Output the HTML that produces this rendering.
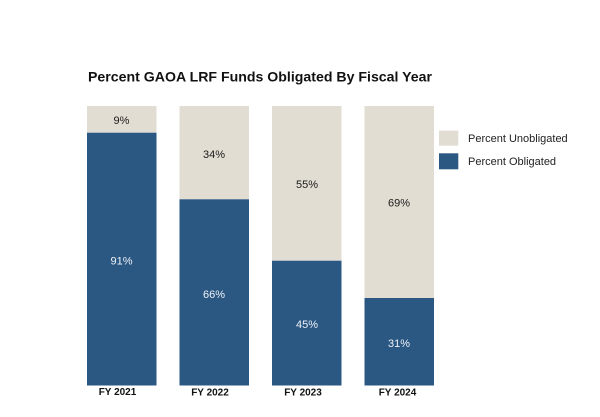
<!DOCTYPE html>
<html>
<head>
<meta charset="utf-8">
<style>
  html,body{margin:0;padding:0;background:#fff;}
  svg{display:block;}
  text{font-family:"Liberation Sans",sans-serif;}
</style>
</head>
<body>
<svg width="600" height="417" viewBox="0 0 600 417" xmlns="http://www.w3.org/2000/svg">
  <rect width="600" height="417" fill="#ffffff"/>
  <!-- Title -->
  <text x="88" y="81.5" font-size="14" font-weight="bold" fill="#111" textLength="344" lengthAdjust="spacingAndGlyphs">Percent GAOA LRF Funds Obligated By Fiscal Year</text>

  <!-- Bar 1 -->
  <rect x="87" y="106" width="69.5" height="26.7" fill="#e2ddd2"/>
  <rect x="87" y="132.7" width="69.5" height="252.8" fill="#2b5783"/>
  <!-- Bar 2 -->
  <rect x="179.5" y="106" width="69.5" height="93.3" fill="#e2ddd2"/>
  <rect x="179.5" y="199.3" width="69.5" height="186.2" fill="#2b5783"/>
  <!-- Bar 3 -->
  <rect x="272" y="106" width="69.5" height="154.7" fill="#e2ddd2"/>
  <rect x="272" y="260.7" width="69.5" height="124.8" fill="#2b5783"/>
  <!-- Bar 4 -->
  <rect x="364.5" y="106" width="69.5" height="192" fill="#e2ddd2"/>
  <rect x="364.5" y="298" width="69.5" height="87.5" fill="#2b5783"/>

  <!-- Value labels -->
  <g font-size="11" text-anchor="middle">
    <text x="121.5" y="124" fill="#1a1a1a">9%</text>
    <text x="121.5" y="264.5" fill="#eef2f7">91%</text>
    <text x="214" y="158" fill="#1a1a1a">34%</text>
    <text x="214" y="298" fill="#eef2f7">66%</text>
    <text x="307" y="188" fill="#1a1a1a">55%</text>
    <text x="307" y="328" fill="#eef2f7">45%</text>
    <text x="399" y="206.5" fill="#1a1a1a">69%</text>
    <text x="399" y="347" fill="#eef2f7">31%</text>
  </g>

  <!-- Category labels -->
  <g font-size="10" font-weight="bold" text-anchor="middle" fill="#111">
    <text x="117.5" y="395">FY 2021</text>
    <text x="210" y="395.5">FY 2022</text>
    <text x="303" y="395.5">FY 2023</text>
    <text x="397.5" y="395.5">FY 2024</text>
  </g>

  <!-- Legend -->
  <rect x="439" y="130.7" width="19.3" height="15" fill="#e2ddd2"/>
  <rect x="439" y="153.3" width="19.3" height="16" fill="#2b5783"/>
  <g font-size="11" fill="#222">
    <text x="468" y="142">Percent Unobligated</text>
    <text x="468" y="165">Percent Obligated</text>
  </g>
</svg>
</body>
</html>
